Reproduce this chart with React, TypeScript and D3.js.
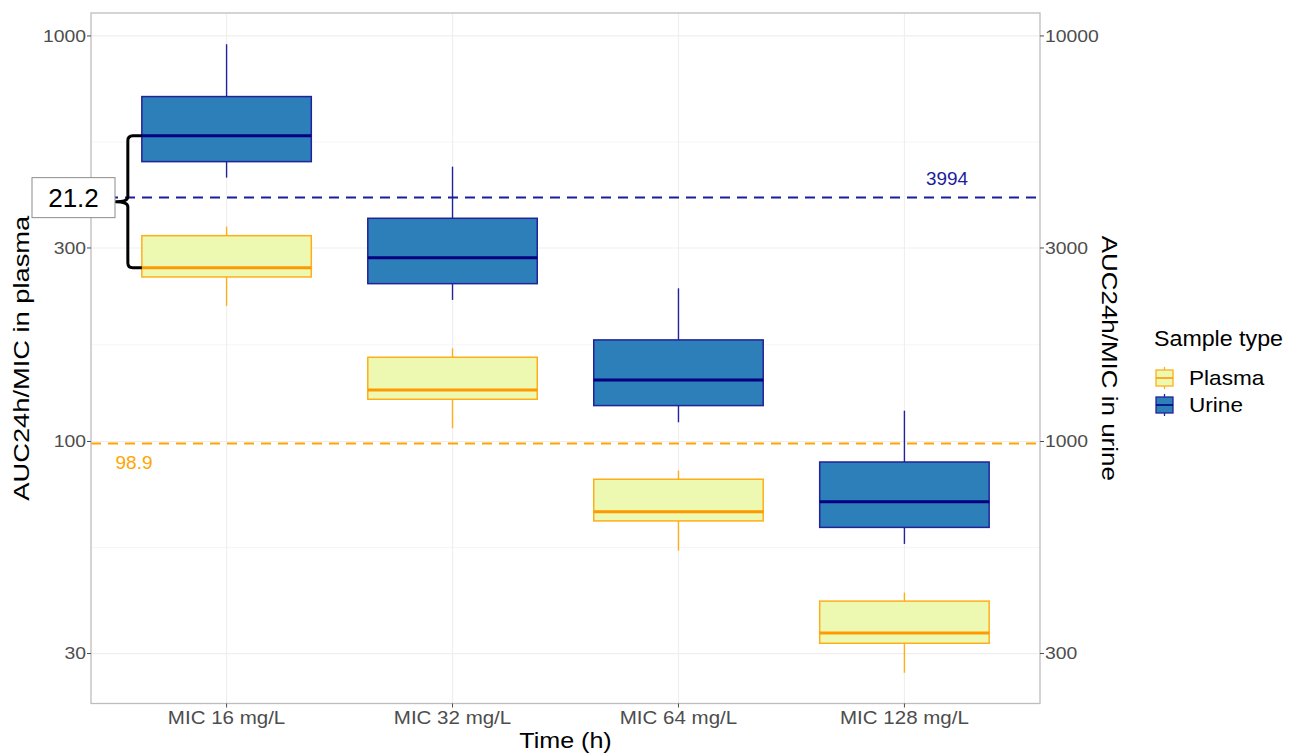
import React from "react";
import * as d3 from "d3";

// Categories on the x axis
const categories = ["MIC 16 mg/L", "MIC 32 mg/L", "MIC 64 mg/L", "MIC 128 mg/L"];

// Plasma AUC24h/MIC box statistics (left axis)
const plasmaLow = [215.9, 107.8, 53.8, 26.9];
const plasmaQ1 = [254.5, 127.1, 63.7, 31.8];
const plasmaMed = [268.3, 134.0, 67.1, 33.7];
const plasmaQ3 = [321.7, 161.3, 80.7, 40.4];
const plasmaHigh = [338.6, 169.7, 84.7, 42.4];

// Urine AUC24h/MIC box statistics (right axis, 10x the left axis)
const urineLow = [4474, 2234, 1115, 559];
const urineQ1 = [4898, 2450, 1226, 614];
const urineMed = [5677, 2840, 1418, 710];
const urineQ3 = [7087, 3551, 1780, 890];
const urineHigh = [9539, 4760, 2386, 1191];

// Target thresholds
const plasmaTarget = 98.9;
const urineTarget = 3994;

// Tick values
const leftTicks = [30, 100, 300, 1000];
const rightTicks = [300, 1000, 3000, 10000];

const URINE_FACTOR = 10;

const W = 1296;
const H = 756;
const panel = { left: 91, right: 1040, top: 13, bottom: 703.5 };

const FONT = "'Liberation Sans', Arial, Helvetica, sans-serif";

// Text drawn with a horizontal stretch around its anchor point
function SText(props: {
  x: number;
  y: number;
  sx?: number;
  rotate?: number;
  size: number;
  fill?: string;
  anchor?: "start" | "middle" | "end";
  children: React.ReactNode;
}) {
  const { x, y, sx = 1, rotate = 0, size, fill = "#000", anchor = "middle", children } = props;
  return (
    <g transform={`translate(${x},${y}) rotate(${rotate}) scale(${sx},1)`}>
      <text
        x={0}
        y={0}
        fontSize={size}
        fill={fill}
        textAnchor={anchor}
        dominantBaseline="central"
      >
        {children}
      </text>
    </g>
  );
}

export default function App() {
  const x = d3
    .scalePoint<string>()
    .domain(categories)
    .range([panel.left, panel.right])
    .padding(0.6);
  const step = x.step();
  const boxW = step * 0.75;

  const y = d3.scaleLog().domain([22.59, 1139]).range([panel.bottom, panel.top]);
  const yRight = d3
    .scaleLog()
    .domain([22.59 * URINE_FACTOR, 1139 * URINE_FACTOR])
    .range([panel.bottom, panel.top]);
  const yU = (v: number) => y(v / URINE_FACTOR);

  // minor gridlines: midpoints between majors in log space
  const minor: number[] = [];
  for (let i = 0; i < leftTicks.length - 1; i++) {
    minor.push(Math.sqrt(leftTicks[i] * leftTicks[i + 1]));
  }

  const plasma = categories.map((c, i) => ({
    c,
    lo: y(plasmaLow[i]),
    q1: y(plasmaQ1[i]),
    med: y(plasmaMed[i]),
    q3: y(plasmaQ3[i]),
    hi: y(plasmaHigh[i]),
  }));
  const urine = categories.map((c, i) => ({
    c,
    lo: yU(urineLow[i]),
    q1: yU(urineQ1[i]),
    med: yU(urineMed[i]),
    q3: yU(urineQ3[i]),
    hi: yU(urineHigh[i]),
  }));

  const urineStroke = "#22229a";
  const urineMedian = "#000080";
  const urineFill = "#2c7fb8";
  const plasmaStroke = "#ffae1a";
  const plasmaMedian = "#ff9900";
  const plasmaFill = "#edf8b1";

  const drawBox = (
    d: { c: string; lo: number; q1: number; med: number; q3: number; hi: number },
    fill: string,
    stroke: string,
    medStroke: string,
    key: string
  ) => {
    const cx = x(d.c) as number;
    return (
      <g key={key}>
        <line x1={cx} x2={cx} y1={d.hi} y2={d.q3} stroke={stroke} strokeWidth={1.4} />
        <line x1={cx} x2={cx} y1={d.q1} y2={d.lo} stroke={stroke} strokeWidth={1.4} />
        <rect
          x={cx - boxW / 2}
          y={d.q3}
          width={boxW}
          height={d.q1 - d.q3}
          fill={fill}
          stroke={stroke}
          strokeWidth={1.5}
        />
        <line
          x1={cx - boxW / 2}
          x2={cx + boxW / 2}
          y1={d.med}
          y2={d.med}
          stroke={medStroke}
          strokeWidth={3}
        />
      </g>
    );
  };

  // Ratio annotation between urine and plasma medians of the first group
  const ratio = urineMed[0] / plasmaMed[0];
  const ratioLabel = ratio.toFixed(1);
  const bTop = yU(urineMed[0]);
  const bBot = y(plasmaMed[0]);
  const bMid = y(Math.sqrt((urineMed[0] / URINE_FACTOR) * plasmaMed[0]));
  const bx0 = (x(categories[0]) as number) - boxW / 2; // box left edge
  const bx = bx0 - 14; // brace spine
  const r = 5;
  const tipX = bx - 12;
  const bracePath = [
    `M${bx0},${bTop}`,
    `L${bx + r},${bTop}`,
    `Q${bx},${bTop} ${bx},${bTop + r}`,
    `L${bx},${bMid - r}`,
    `Q${bx},${bMid} ${tipX},${bMid}`,
    `Q${bx},${bMid} ${bx},${bMid + r}`,
    `L${bx},${bBot - r}`,
    `Q${bx},${bBot} ${bx + r},${bBot}`,
    `L${bx0},${bBot}`,
  ].join(" ");

  const legendX = 1156;
  const keyW = 17;
  const midY = (panel.top + panel.bottom) / 2;

  return (
    <svg
      width={W}
      height={H}
      style={{ position: "absolute", left: 0, top: 0, background: "#fff" }}
      fontFamily={FONT}
    >
      <rect x={0} y={0} width={W} height={H} fill="#fff" />

      {/* gridlines */}
      {minor.map((v) => (
        <line
          key={"mn" + v}
          x1={panel.left}
          x2={panel.right}
          y1={y(v)}
          y2={y(v)}
          stroke="#f6f6f6"
          strokeWidth={1}
        />
      ))}
      {leftTicks.map((v) => (
        <line
          key={"mj" + v}
          x1={panel.left}
          x2={panel.right}
          y1={y(v)}
          y2={y(v)}
          stroke="#efefef"
          strokeWidth={1.2}
        />
      ))}
      {categories.map((c) => (
        <line
          key={"vx" + c}
          x1={x(c) as number}
          x2={x(c) as number}
          y1={panel.top}
          y2={panel.bottom}
          stroke="#efefef"
          strokeWidth={1.2}
        />
      ))}

      {/* boxes */}
      {plasma.map((d, i) => drawBox(d, plasmaFill, plasmaStroke, plasmaMedian, "p" + i))}
      {urine.map((d, i) => drawBox(d, urineFill, urineStroke, urineMedian, "u" + i))}

      {/* target lines */}
      <line
        x1={panel.left}
        x2={panel.right}
        y1={y(plasmaTarget)}
        y2={y(plasmaTarget)}
        stroke="#ffa500"
        strokeWidth={2}
        strokeDasharray="10,7"
      />
      <line
        x1={panel.left}
        x2={panel.right}
        y1={yU(urineTarget)}
        y2={yU(urineTarget)}
        stroke="#1c1c9c"
        strokeWidth={2}
        strokeDasharray="10,7"
      />
      <SText x={134} y={y(plasmaTarget) + 19} size={19} fill="#ffa500">
        {plasmaTarget.toFixed(1)}
      </SText>
      <SText x={947} y={yU(urineTarget) - 19} size={18} sx={1.05} fill="#1c1c9c">
        {urineTarget}
      </SText>

      {/* panel border */}
      <rect
        x={panel.left}
        y={panel.top}
        width={panel.right - panel.left}
        height={panel.bottom - panel.top}
        fill="none"
        stroke="#bdbdbd"
        strokeWidth={1.3}
      />

      {/* ratio brace and label */}
      <path d={bracePath} fill="none" stroke="#000" strokeWidth={3} strokeLinejoin="round" />
      <rect x={32} y={bMid - 24} width={83} height={40} fill="#fff" stroke="#8c8c8c" strokeWidth={1} />
      <SText x={73.5} y={bMid - 4} size={26}>
        {ratioLabel}
      </SText>

      {/* left axis */}
      {leftTicks.map((v) => (
        <g key={"lt" + v}>
          <line x1={panel.left - 4} x2={panel.left} y1={y(v)} y2={y(v)} stroke="#4d4d4d" />
          <SText x={panel.left - 5} y={y(v)} size={17} sx={1.14} fill="#4d4d4d" anchor="end">
            {v}
          </SText>
        </g>
      ))}
      {/* right axis */}
      {rightTicks.map((v) => (
        <g key={"rt" + v}>
          <line x1={panel.right} x2={panel.right + 4} y1={yRight(v)} y2={yRight(v)} stroke="#4d4d4d" />
          <SText x={panel.right + 5} y={yRight(v)} size={17} sx={1.14} fill="#4d4d4d" anchor="start">
            {v}
          </SText>
        </g>
      ))}
      {/* x axis */}
      {categories.map((c) => (
        <g key={"xt" + c}>
          <line
            x1={x(c) as number}
            x2={x(c) as number}
            y1={panel.bottom}
            y2={panel.bottom + 4}
            stroke="#4d4d4d"
          />
          <SText x={x(c) as number} y={718} size={18} sx={1.14} fill="#4d4d4d">
            {c}
          </SText>
        </g>
      ))}

      {/* axis titles */}
      <SText x={21} y={midY} rotate={-90} size={22} sx={1.24}>
        AUC24h/MIC in plasma
      </SText>
      <SText x={1110} y={midY} rotate={90} size={22} sx={1.18}>
        AUC24h/MIC in urine
      </SText>
      <SText x={(panel.left + panel.right) / 2} y={741} size={22} sx={1.14}>
        Time (h)
      </SText>

      {/* legend */}
      <SText x={1154} y={339} size={21.5} sx={1.08} anchor="start">
        Sample type
      </SText>
      {[
        { label: "Plasma", fill: plasmaFill, stroke: plasmaStroke, med: plasmaMedian, cy: 378 },
        { label: "Urine", fill: urineFill, stroke: urineStroke, med: urineMedian, cy: 405 },
      ].map((k) => (
        <g key={k.label}>
          <line
            x1={legendX + keyW / 2}
            x2={legendX + keyW / 2}
            y1={k.cy - 11}
            y2={k.cy + 11}
            stroke={k.stroke}
            strokeWidth={1.3}
          />
          <rect x={legendX} y={k.cy - 8} width={keyW} height={16} fill={k.fill} stroke={k.stroke} strokeWidth={1.3} />
          <line x1={legendX} x2={legendX + keyW} y1={k.cy} y2={k.cy} stroke={k.med} strokeWidth={1.6} />
          <SText x={1189} y={k.cy} size={20} sx={1.13} anchor="start">
            {k.label}
          </SText>
        </g>
      ))}
    </svg>
  );
}
